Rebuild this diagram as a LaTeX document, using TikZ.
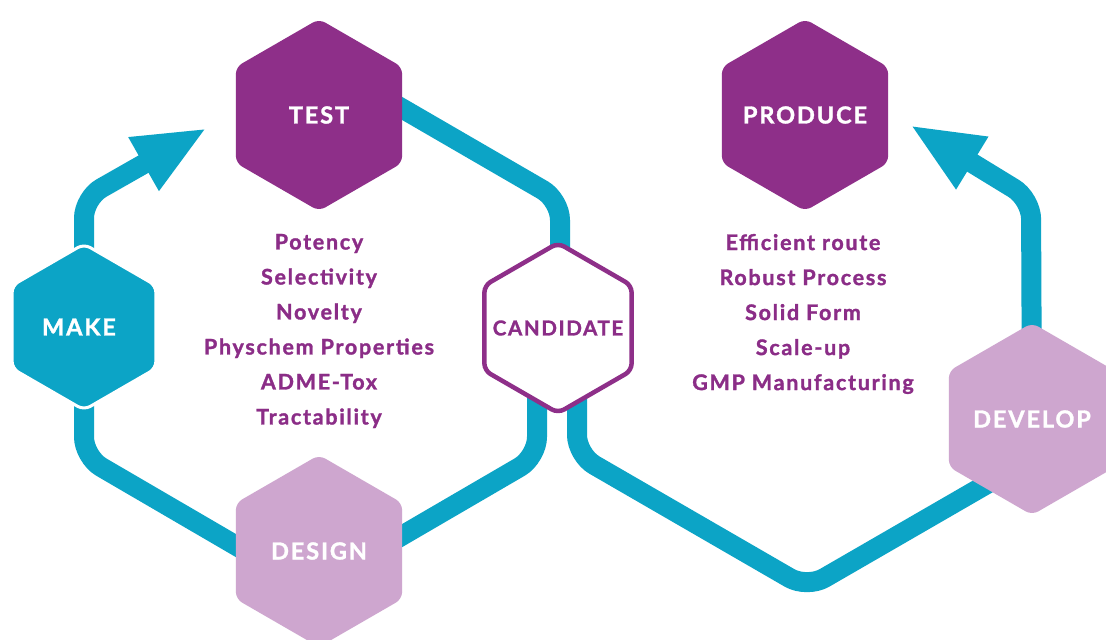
\documentclass[tikz,border=0pt]{standalone}
\usepackage{fontspec}
\setmainfont{Lato}[BoldFeatures={FakeBold=1.4, LetterSpace=8}]
\usetikzlibrary{shapes.geometric,arrows.meta,calc}
\pgfdeclarelayer{backdrop}
\pgfdeclarelayer{bands}
\pgfsetlayers{backdrop,bands,main}
\definecolor{bandteal}{RGB}{12,164,198}
\definecolor{deepplum}{RGB}{142,47,137}
\definecolor{paleplum}{RGB}{206,166,207}
\definecolor{plumtext}{RGB}{139,45,135}
\tikzset{
  hexa/.style={regular polygon, regular polygon sides=6, shape border rotate=30,
    inner sep=0pt, rounded corners=7pt, text=white,
    font=\bfseries\fontsize{23.5}{28}\selectfont},
  bigcell/.style={hexa, minimum size=192pt},
  band/.style={draw=bandteal, line width=20pt, rounded corners=20pt, line join=round},
  flow/.style={band, -{Triangle[length=73pt,width=56pt]}},
  listtext/.style={align=center, text=plumtext, font=\bfseries\fontsize{21.5}{35}\selectfont},
}
\begin{document}
\begin{tikzpicture}[x=1pt,y=-1pt]
\begin{pgfonlayer}{backdrop}
\fill[white] (0,0) rectangle (1106,640);
\end{pgfonlayer}
\useasboundingbox (0,0) rectangle (1106,640);

% stage cells
\node[bigcell, fill=deepplum] (test) at (319,115) {\makebox[0pt]{TEST}};
\node[bigcell, fill=deepplum] (produce) at (805,115) {\makebox[0pt]{PRODUCE}};
\node[bigcell, fill=paleplum] (design) at (319,551) {\makebox[0pt]{DESIGN}};
\node[bigcell, fill=paleplum] (develop) at (1032,419) {\makebox[0pt]{DEVELOP}};
\node[hexa, minimum size=166pt, fill=bandteal, draw=white, line width=3pt] (make) at (84,327) {\makebox[0pt]{\kern-10pt MAKE}};
\node[hexa, minimum size=170pt, fill=white, draw=deepplum, line width=4.5pt,
      text=plumtext, font=\bfseries\fontsize{20.5}{25}\selectfont] (cand) at (558,328) {\makebox[0pt]{CANDIDATE}};

% criteria lists
\node[listtext] (testlist) at (319,331) {Potency\\Selectivity\\Novelty\\Physchem Properties\\ADME-Tox\\Tractability};
\node[listtext] (prodlist) at (803,314) {Efficient route\\Robust Process\\Solid Form\\Scale-up\\GMP Manufacturing};

% arrow ends
\coordinate (testin) at (207,128);
\coordinate (prodin) at (910,125);

% cycle bands behind the cells
\begin{pgfonlayer}{bands}
\draw[flow] (make.center) -- (84,198) -- (testin);
\draw[band] ($(test.center)+(3,-53)$) -- (560,200) -- ($(cand.center)+(2,0)$);
\draw[band] ($(cand.center)+(-21,0)$) -- (537,457) -- ($(design.center)+(0,33)$);
\draw[band] ($(design.center)+(0,43)$) -- (84,457) -- (make.center);
\draw[band] ($(cand.center)+(19,0)$) -- (577,455) -- (807,588) -- ($(develop.center)+(0,39)$);
\draw[flow] (develop.center) -- (1031,199) -- (prodin);
\end{pgfonlayer}
\end{tikzpicture}
\end{document}
